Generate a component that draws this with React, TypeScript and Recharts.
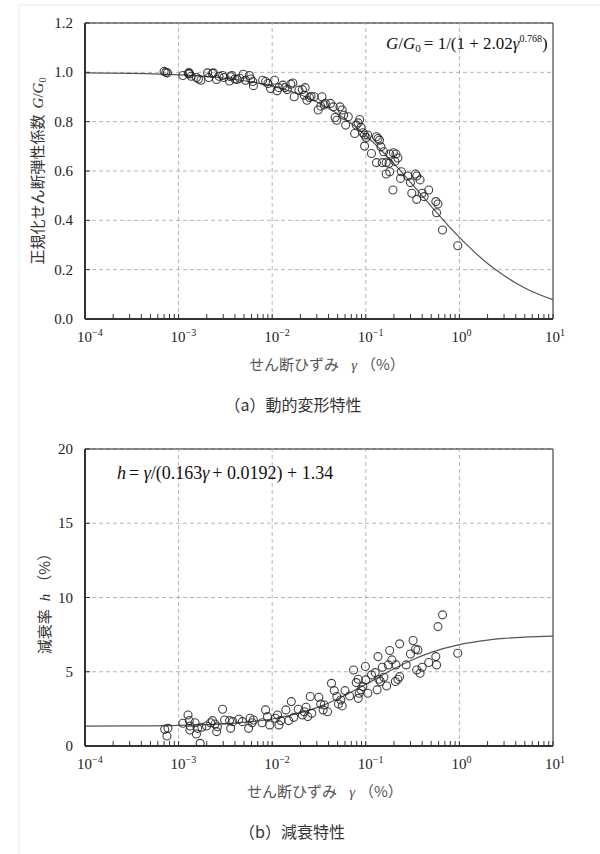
import React from 'react';
import {
  ComposedChart,
  Scatter,
  Line,
  XAxis,
  YAxis,
  CartesianGrid,
  ReferenceLine,
  ReferenceArea,
} from 'recharts';

// せん断ひずみ γ (%) の目盛
const decades = [1e-4, 1e-3, 1e-2, 1e-1, 1, 10];
const gridDecades = [1e-3, 1e-2, 1e-1, 1];
const minorSteps = [2, 3, 4, 5, 6, 7, 8, 9];
const strainTicks = decades.flatMap((d, i) =>
  i === decades.length - 1 ? [d] : [d, ...minorSteps.map((m) => +(d * m).toPrecision(3))]
);

const modulusTicks = [0, 0.2, 0.4, 0.6, 0.8, 1.0, 1.2];
const dampingTicks = [0, 5, 10, 15, 20];

// (a) 動的変形特性 : [γ(%), G/G0]
const modulusPoints: [number, number][] = [
  [7.0e-4, 1.004], [7.3e-4, 1.0], [7.6e-4, 0.998],
  [1.11e-3, 0.987], [1.27e-3, 0.995], [1.31e-3, 0.993], [1.29e-3, 0.999], [1.36e-3, 0.984],
  [1.55e-3, 0.979], [1.63e-3, 0.973], [1.73e-3, 0.968], [2.04e-3, 0.998], [2.1e-3, 0.979],
  [2.3e-3, 0.995], [2.35e-3, 0.998], [2.54e-3, 0.971], [2.7e-3, 0.984], [2.95e-3, 0.987], [3.05e-3, 0.979],
  [3.49e-3, 0.965], [3.6e-3, 0.982], [3.7e-3, 0.987], [4.0e-3, 0.973], [4.2e-3, 0.971], [4.5e-3, 0.976],
  [4.9e-3, 0.992], [5.2e-3, 0.968], [5.7e-3, 0.987], [5.9e-3, 0.973], [6.2e-3, 0.963], [6.3e-3, 0.946],
  [7.9e-3, 0.968], [8.5e-3, 0.963], [9.0e-3, 0.955], [9.6e-3, 0.934], [1.06e-2, 0.968], [1.13e-2, 0.925],
  [1.18e-2, 0.938], [1.3e-2, 0.948], [1.37e-2, 0.938], [1.45e-2, 0.93], [1.58e-2, 0.952], [1.66e-2, 0.957],
  [1.72e-2, 0.901], [1.93e-2, 0.928], [2.1e-2, 0.93], [2.2e-2, 0.907], [2.25e-2, 0.938], [2.35e-2, 0.887],
  [2.5e-2, 0.898], [2.6e-2, 0.903], [2.8e-2, 0.901], [3.1e-2, 0.847], [3.3e-2, 0.863], [3.4e-2, 0.901],
  [3.6e-2, 0.868], [3.7e-2, 0.874], [4.2e-2, 0.874], [4.5e-2, 0.86], [4.7e-2, 0.817], [4.9e-2, 0.806],
  [5.3e-2, 0.86], [5.6e-2, 0.847], [5.8e-2, 0.826], [6.1e-2, 0.786], [6.5e-2, 0.82], [7.6e-2, 0.752],
  [7.9e-2, 0.786], [8.3e-2, 0.795], [8.6e-2, 0.809], [8.9e-2, 0.777], [9.3e-2, 0.755], [9.7e-2, 0.746],
  [1.01e-1, 0.736], [1.05e-1, 0.746], [9.7e-2, 0.701], [1.15e-1, 0.671], [1.3e-1, 0.739], [1.35e-1, 0.732],
  [1.4e-1, 0.725], [1.3e-1, 0.634], [1.45e-1, 0.698], [1.55e-1, 0.678], [1.5e-1, 0.634], [1.65e-1, 0.634],
  [1.8e-1, 0.669], [1.77e-1, 0.631], [1.65e-1, 0.588], [1.8e-1, 0.597], [1.97e-1, 0.674], [2.1e-1, 0.669],
  [2.2e-1, 0.653], [2.05e-1, 0.639], [1.95e-1, 0.523], [2.4e-1, 0.597], [2.35e-1, 0.57], [2.8e-1, 0.58],
  [3.0e-1, 0.553], [3.1e-1, 0.51], [3.4e-1, 0.588], [3.5e-1, 0.58], [3.5e-1, 0.485], [3.8e-1, 0.564],
  [4.0e-1, 0.51], [4.2e-1, 0.496], [4.7e-1, 0.523], [5.6e-1, 0.476], [5.9e-1, 0.466], [5.7e-1, 0.431],
  [6.6e-1, 0.361], [9.6e-1, 0.297],
];

// G/G0 = 1/(1+2.02γ^0.768) の曲線
const modulusCurve: [number, number][] = [
  [1e-4, 0.998], [3e-4, 0.996], [1e-3, 0.99], [3e-3, 0.977], [1e-2, 0.944], [2e-2, 0.909],
  [3e-2, 0.88], [5e-2, 0.832], [1e-1, 0.744], [2e-1, 0.63], [3e-1, 0.555], [5e-1, 0.457],
  [1, 0.331], [2, 0.225], [3, 0.176], [5, 0.126], [10, 0.078],
];

// (b) 減衰特性 : [γ(%), h(%)]
const dampingPoints: [number, number][] = [
  [7.1e-4, 1.12], [7.5e-4, 0.67], [7.7e-4, 1.19],
  [1.11e-3, 1.53], [1.26e-3, 2.09], [1.3e-3, 1.71], [1.33e-3, 1.35], [1.32e-3, 1.08],
  [1.5e-3, 1.57], [1.55e-3, 0.81], [1.6e-3, 1.19], [1.7e-3, 0.18], [1.77e-3, 1.26],
  [1.99e-3, 1.35], [2.2e-3, 1.57], [2.3e-3, 1.71], [2.45e-3, 1.48], [2.55e-3, 0.97], [2.6e-3, 1.3],
  [2.95e-3, 2.47], [3.1e-3, 1.75], [3.5e-3, 1.71], [3.6e-3, 1.19], [3.8e-3, 1.64], [4.4e-3, 1.8],
  [4.8e-3, 1.64], [5.6e-3, 1.19], [5.8e-3, 1.87], [6.1e-3, 1.57], [6.3e-3, 1.75],
  [7.8e-3, 1.57], [8.5e-3, 2.43], [8.9e-3, 1.98], [9.4e-3, 1.42],
  [1.08e-2, 1.87], [1.14e-2, 2.09], [1.18e-2, 1.42], [1.24e-2, 1.71],
  [1.4e-2, 2.43], [1.5e-2, 1.71], [1.6e-2, 2.99], [1.7e-2, 1.93],
  [1.9e-2, 2.47], [2.1e-2, 2.09], [2.2e-2, 2.31], [2.3e-2, 2.61], [2.4e-2, 1.98], [2.55e-2, 3.33],
  [2.65e-2, 2.2], [3.15e-2, 3.28], [3.3e-2, 2.83], [3.5e-2, 2.43], [3.6e-2, 2.76], [3.9e-2, 2.31],
  [4.3e-2, 4.22], [4.6e-2, 3.73], [4.9e-2, 3.33], [5.1e-2, 2.83], [5.4e-2, 3.1], [5.6e-2, 2.7],
  [6.0e-2, 3.73], [6.7e-2, 3.37], [7.4e-2, 5.12], [7.9e-2, 4.27], [8.3e-2, 4.49], [8.5e-2, 3.55],
  [8.9e-2, 3.78], [9.3e-2, 4.0], [8.3e-2, 3.21], [9.9e-2, 5.35], [1.0e-1, 4.45], [1.05e-1, 3.55],
  [1.15e-1, 4.79], [1.26e-1, 4.94], [1.32e-1, 3.78], [1.38e-1, 4.49], [1.43e-1, 4.34], [1.35e-1, 6.02],
  [1.5e-1, 5.3], [1.56e-1, 4.63], [1.67e-1, 4.04], [1.74e-1, 5.46], [1.8e-1, 6.43], [1.9e-1, 5.8],
  [2.07e-1, 4.34], [2.2e-1, 4.49], [2.3e-1, 4.67], [2.1e-1, 5.46], [2.3e-1, 6.88],
  [2.7e-1, 5.46], [3.0e-1, 6.2], [3.2e-1, 7.1], [3.4e-1, 6.52], [3.6e-1, 6.47], [3.5e-1, 5.12],
  [3.8e-1, 4.9], [4.0e-1, 5.3], [4.7e-1, 5.62], [5.6e-1, 6.02], [5.7e-1, 5.46], [5.9e-1, 8.04],
  [6.6e-1, 8.83], [9.6e-1, 6.25],
];

// h = γ/(0.163γ+0.0192)+1.34 の曲線
const dampingCurve: [number, number][] = [
  [1e-4, 1.345], [3e-4, 1.356], [1e-3, 1.392], [3e-3, 1.492], [1e-2, 1.82], [2e-2, 2.23],
  [3e-2, 2.585], [5e-2, 3.168], [1e-1, 4.157], [2e-1, 5.201], [3e-1, 5.745], [5e-1, 6.305],
  [1, 6.828], [2, 7.134], [3, 7.243], [5, 7.334], [10, 7.404],
];

const SERIF = "'Liberation Serif', 'Times New Roman', 'DejaVu Serif', serif";
const JP = "'Noto Sans CJK JP', sans-serif";
const GRID = '#b5b5b5';
const serif = { fontFamily: SERIF };
const jp = { fontFamily: JP };

const XTick = (props: any) => {
  const { x, y, payload } = props;
  const lg = Math.log10(payload.value);
  const exp = Math.round(lg);
  const major = Math.abs(lg - exp) < 1e-6;
  return (
    <g>
      <line x1={x} x2={x} y1={y} y2={y - 5} stroke="#333" strokeWidth={1} />
      {major && (
        <text x={x - 8} y={y + 23} style={serif} fontSize={15} fill="#222">
          10
          <tspan dy={-6} fontSize={10}>
            {exp < 0 ? `−${-exp}` : `${exp}`}
          </tspan>
        </text>
      )}
    </g>
  );
};

const makeYTick = (digits: number) => (props: any) => {
  const { x, y, payload } = props;
  return (
    <g>
      <line x1={x} x2={x + 5} y1={y} y2={y} stroke="#333" strokeWidth={1} />
      <text x={x - 12} y={y + 5} textAnchor="end" style={serif} fontSize={15} fill="#222">
        {Number(payload.value).toFixed(digits)}
      </text>
    </g>
  );
};

const Ring = (p: any) => (
  <circle cx={p.cx} cy={p.cy} r={4} fill="none" stroke="#222" strokeOpacity={0.85} strokeWidth={1.1} />
);

type PanelProps = {
  points: [number, number][];
  curve: [number, number][];
  yMax: number;
  yTicks: number[];
  digits: number;
  marginTop: number;
  xAxisHeight: number;
};

const Panel = ({ points, curve, yMax, yTicks, digits, marginTop, xAxisHeight }: PanelProps) => {
  const scatterData = points.map(([x, y]) => ({ x, y }));
  const curveData = curve.map(([x, y]) => ({ x, y }));
  return (
    <ComposedChart width={600} height={360} margin={{ top: marginTop, right: 47, left: 0, bottom: 0 }}>
      <CartesianGrid vertical={false} stroke={GRID} strokeDasharray="4 3" />
      {gridDecades.map((d) => (
        <ReferenceLine key={d} x={d} stroke={GRID} strokeDasharray="4 3" />
      ))}
      <XAxis
        type="number"
        dataKey="x"
        scale="log"
        domain={[1e-4, 10]}
        ticks={strainTicks}
        interval={0}
        allowDataOverflow
        height={xAxisHeight}
        tickSize={0}
        tickMargin={0}
        tickLine={false}
        axisLine={{ stroke: '#333', strokeWidth: 2 }}
        tick={XTick}
      />
      <YAxis
        type="number"
        dataKey="y"
        domain={[0, yMax]}
        ticks={yTicks}
        interval={0}
        allowDataOverflow
        width={85}
        tickSize={0}
        tickMargin={0}
        tickLine={false}
        axisLine={{ stroke: '#333', strokeWidth: 2 }}
        tick={makeYTick(digits)}
      />
      <ReferenceArea x1={1e-4} x2={10} y1={0} y2={yMax} fill="none" stroke="#222" strokeWidth={1} />
      <Line
        data={curveData}
        dataKey="y"
        type="monotone"
        stroke="#555"
        strokeWidth={1.2}
        dot={false}
        isAnimationActive={false}
      />
      <Scatter data={scatterData} dataKey="y" shape={Ring} isAnimationActive={false} />
    </ComposedChart>
  );
};

const App = () => {
  return (
    <div style={{ position: 'absolute', left: 0, top: 0, width: 600, height: 854, background: '#fff' }}>
      <div style={{ position: 'absolute', left: 0, top: 0 }}>
        <Panel
          points={modulusPoints}
          curve={modulusCurve}
          yMax={1.2}
          yTicks={modulusTicks}
          digits={1}
          marginTop={23}
          xAxisHeight={41}
        />
      </div>
      <div style={{ position: 'absolute', left: 0, top: 430 }}>
        <Panel
          points={dampingPoints}
          curve={dampingCurve}
          yMax={20}
          yTicks={dampingTicks}
          digits={0}
          marginTop={19}
          xAxisHeight={44}
        />
      </div>
      <svg
        width={600}
        height={854}
        style={{ position: 'absolute', left: 0, top: 0, pointerEvents: 'none' }}
      >
        <line x1={19} y1={5} x2={600} y2={5} stroke="#ececec" />
        <line x1={19} y1={5} x2={19} y2={854} stroke="#ececec" />

        {/* (a) */}
        <text x={386} y={49} style={serif} fontSize={17} fill="#111">
          <tspan fontStyle="italic">G</tspan>
          <tspan>/</tspan>
          <tspan fontStyle="italic">G</tspan>
          <tspan dy={3} fontSize={11}>0</tspan>
          <tspan dy={-3} dx={3}>= 1/(1 + 2.02</tspan>
          <tspan fontStyle="italic">γ</tspan>
          <tspan dy={-7} fontSize={10}>0.768</tspan>
          <tspan dy={7}>)</tspan>
        </text>
        <text transform="translate(43,171) rotate(-90)" textAnchor="middle" fontSize={15} fill="#333">
          <tspan style={jp}>正規化せん断弾性係数</tspan>
          <tspan style={serif} fontStyle="italic" dx={6}>G</tspan>
          <tspan style={serif}>/</tspan>
          <tspan style={serif} fontStyle="italic">G</tspan>
          <tspan style={serif} dy={3} fontSize={10}>0</tspan>
        </text>
        <text x={327} y={370} textAnchor="middle" fontSize={15} fill="#555">
          <tspan style={jp}>せん断ひずみ</tspan>
          <tspan style={serif} fontStyle="italic" dx={12}>γ</tspan>
          <tspan style={jp} dx={4}>（%）</tspan>
        </text>
        <text x={293} y={411} textAnchor="middle" style={jp} fontSize={16} fill="#333">
          （a）動的変形特性
        </text>

        {/* (b) */}
        <text x={117} y={479} style={serif} fontSize={18} fill="#111">
          <tspan fontStyle="italic">h</tspan>
          <tspan dx={3}>= </tspan>
          <tspan fontStyle="italic">γ</tspan>
          <tspan>/(0.163</tspan>
          <tspan fontStyle="italic">γ</tspan>
          <tspan dx={3}>+ 0.0192) + 1.34</tspan>
        </text>
        <text transform="translate(50,600) rotate(-90)" textAnchor="middle" fontSize={15} fill="#333">
          <tspan style={jp}>減衰率</tspan>
          <tspan style={serif} fontStyle="italic" dx={8}>h</tspan>
          <tspan style={jp} dx={4}>（%）</tspan>
        </text>
        <text x={325} y={797} textAnchor="middle" fontSize={15} fill="#555">
          <tspan style={jp}>せん断ひずみ</tspan>
          <tspan style={serif} fontStyle="italic" dx={12}>γ</tspan>
          <tspan style={jp} dx={4}>（%）</tspan>
        </text>
        <text x={292} y={838} textAnchor="middle" style={jp} fontSize={16} fill="#333">
          （b）減衰特性
        </text>
      </svg>
    </div>
  );
};

export default App;
